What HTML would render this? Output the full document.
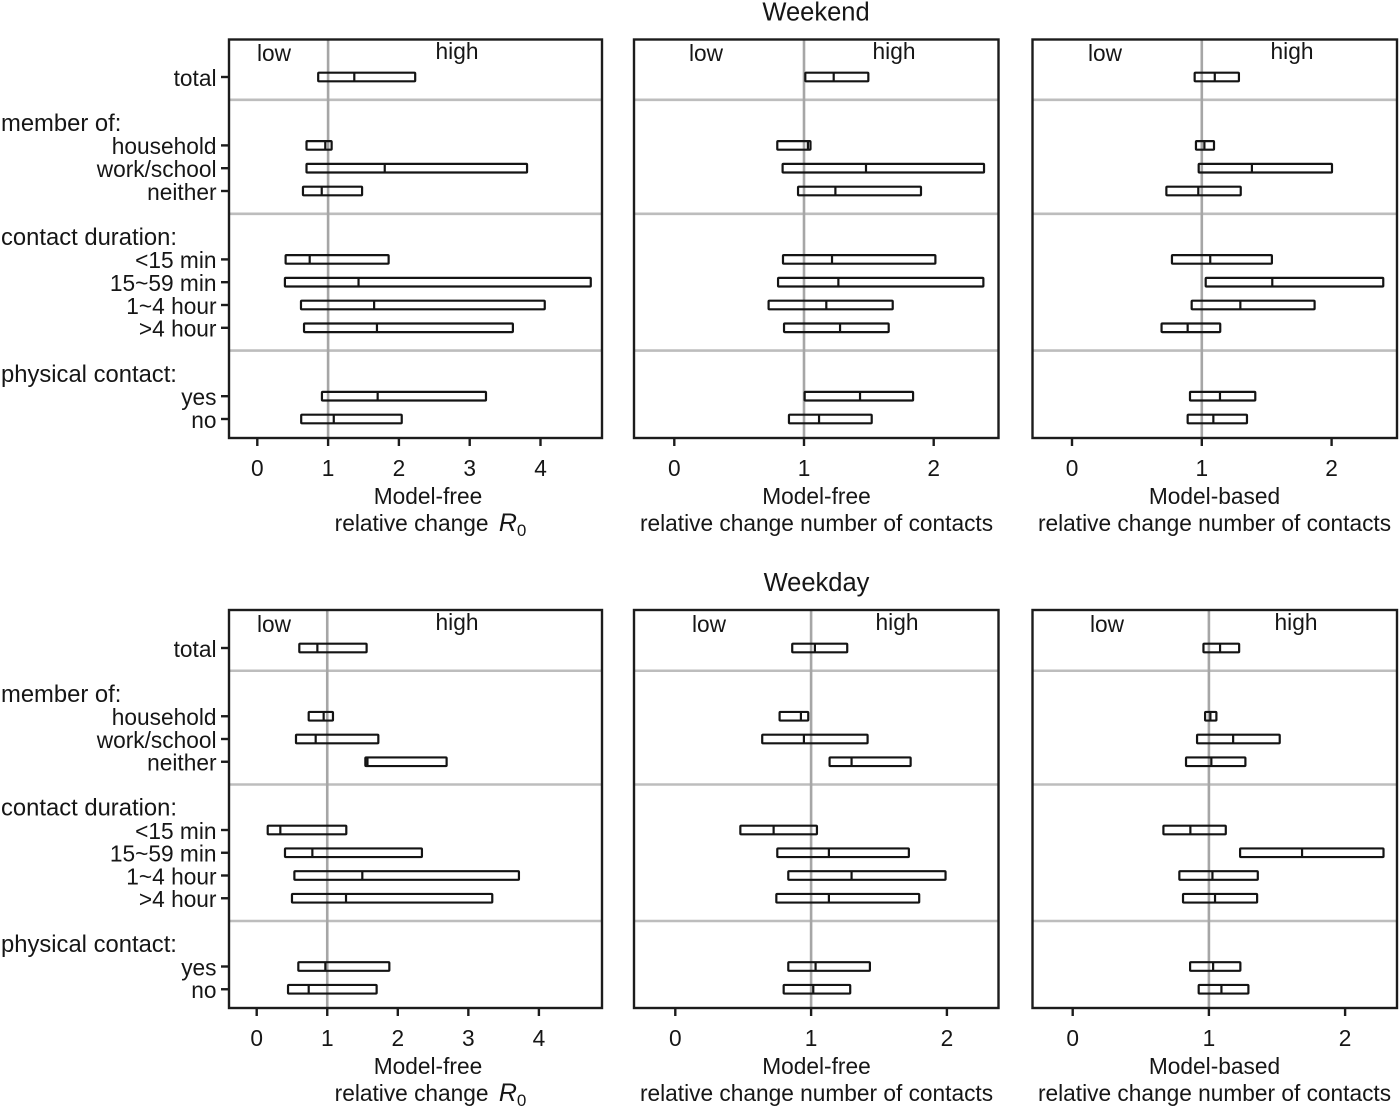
<!DOCTYPE html>
<html lang="en">
<head>
<meta charset="utf-8">
<title>Relative change by contact type, weekend and weekday</title>
<style>
html,body{margin:0;padding:0;background:#fff}
svg{display:block}
text{font-family:"Liberation Sans",Arial,sans-serif;font-size:22.7px;fill:#161616}
</style>
</head>
<body>
<svg id="chart" xmlns="http://www.w3.org/2000/svg" width="1400" height="1107" viewBox="0 0 1400 1107">
<rect x="0" y="0" width="1400" height="1107" fill="#ffffff"/>
<text x="816" y="20.5" text-anchor="middle" style="font-size:25.5px">Weekend</text>
<text x="816.5" y="591" text-anchor="middle" style="font-size:25.5px">Weekday</text>
</svg>
<script>
const rowLabels = ['total','','member of:','household','work/school','neither','','contact duration:','<15 min','15~59 min','1~4 hour','>4 hour','','physical contact:','yes','no'];

const ticksR0 = [0,1,2,3,4];
const ticksContacts = [0,1,2];

const weekendFreeR0Low  = [0.86,0.695,0.695,0.645,0.40,0.39,0.617,0.66,0.913,0.62];
const weekendFreeR0Mid  = [1.37,0.96,1.80,0.91,0.74,1.43,1.65,1.69,1.70,1.08];
const weekendFreeR0High = [2.23,1.05,3.81,1.48,1.855,4.71,4.06,3.61,3.23,2.04];

const weekendFreeContactsLow  = [1.01,0.794,0.835,0.954,0.838,0.80,0.727,0.846,1.005,0.884];
const weekendFreeContactsMid  = [1.229,1.03,1.478,1.242,1.216,1.265,1.172,1.278,1.432,1.116];
const weekendFreeContactsHigh = [1.496,1.05,2.388,1.902,2.013,2.383,1.684,1.653,1.841,1.522];

const weekendBasedContactsLow  = [0.945,0.955,0.976,0.727,0.77,1.03,0.922,0.69,0.909,0.891];
const weekendBasedContactsMid  = [1.10,1.02,1.386,0.973,1.065,1.543,1.297,0.891,1.14,1.089];
const weekendBasedContactsHigh = [1.286,1.094,2.003,1.30,1.54,2.398,1.869,1.142,1.412,1.348];

const weekdayFreeR0Low  = [0.604,0.737,0.557,1.54,0.156,0.401,0.534,0.50,0.59,0.444];
const weekdayFreeR0Mid  = [0.86,0.949,0.836,1.57,0.335,0.789,1.497,1.266,0.973,0.737];
const weekdayFreeR0High = [1.558,1.081,1.724,2.692,1.27,2.342,3.717,3.339,1.88,1.70];

const weekdayFreeContactsLow  = [0.861,0.768,0.64,1.136,0.479,0.751,0.832,0.744,0.832,0.798];
const weekdayFreeContactsMid  = [1.028,0.925,0.947,1.298,0.724,1.131,1.298,1.131,1.033,1.016];
const weekdayFreeContactsHigh = [1.266,0.979,1.416,1.733,1.043,1.72,1.99,1.796,1.433,1.288];

const weekdayBasedContactsLow  = [0.96,0.972,0.913,0.832,0.666,1.229,0.783,0.81,0.862,0.925];
const weekdayBasedContactsMid  = [1.082,1.011,1.178,1.018,0.864,1.684,1.026,1.045,1.031,1.092];
const weekdayBasedContactsHigh = [1.222,1.055,1.52,1.268,1.124,2.282,1.359,1.354,1.231,1.29];

const panels = [
  {id:'weekend-r0',left:229,right:602,top:39.5,bottom:438,row0:77,rowStep:22.8,zero:257.3,unit:70.8,ticks:ticksR0,lowX:274,highX:457,lowY:61,highY:59,line1:'Model-free',cx:428,r0:true,low:weekendFreeR0Low,mid:weekendFreeR0Mid,high:weekendFreeR0High,yAxis:true},
  {id:'weekend-model-free-contacts',left:634,right:998.5,top:39.5,bottom:438,row0:77,rowStep:22.8,zero:674.3,unit:129.7,ticks:ticksContacts,lowX:706,highX:894,lowY:61,highY:59,line1:'Model-free',cx:816.5,low:weekendFreeContactsLow,mid:weekendFreeContactsMid,high:weekendFreeContactsHigh},
  {id:'weekend-model-based-contacts',left:1032.5,right:1397,top:39.5,bottom:438,row0:77,rowStep:22.8,zero:1072,unit:129.8,ticks:ticksContacts,lowX:1105,highX:1292,lowY:61,highY:59,line1:'Model-based',cx:1214.5,low:weekendBasedContactsLow,mid:weekendBasedContactsMid,high:weekendBasedContactsHigh},
  {id:'weekday-r0',left:229,right:602,top:610,bottom:1008,row0:648,rowStep:22.75,zero:256.7,unit:70.55,ticks:ticksR0,lowX:274,highX:457,lowY:632,highY:630,line1:'Model-free',cx:428,r0:true,low:weekdayFreeR0Low,mid:weekdayFreeR0Mid,high:weekdayFreeR0High,yAxis:true},
  {id:'weekday-model-free-contacts',left:634,right:998.5,top:610,bottom:1008,row0:648,rowStep:22.75,zero:675.3,unit:135.8,ticks:ticksContacts,lowX:709,highX:897,lowY:632,highY:630,line1:'Model-free',cx:816.5,low:weekdayFreeContactsLow,mid:weekdayFreeContactsMid,high:weekdayFreeContactsHigh},
  {id:'weekday-model-based-contacts',left:1032.5,right:1397,top:610,bottom:1008,row0:648,rowStep:22.75,zero:1072.7,unit:136.2,ticks:ticksContacts,lowX:1107,highX:1296,lowY:632,highY:630,line1:'Model-based',cx:1214.5,low:weekdayBasedContactsLow,mid:weekdayBasedContactsMid,high:weekdayBasedContactsHigh}
];

const svg = document.getElementById('chart');
const NS = 'http://www.w3.org/2000/svg';

function make(tag, attrs, parent){
  const el = document.createElementNS(NS, tag);
  for (const k in attrs) el.setAttribute(k, attrs[k]);
  parent.appendChild(el);
  return el;
}

panels.forEach(function(p){
  const xScale = function(v){ return p.zero + v * p.unit; };
  const yScale = function(slot){ return p.row0 + slot * p.rowStep; };

  const g = make('g', {}, svg);
  
  

  // separators between groups sit on the empty slots
  rowLabels.forEach(function(label, slot){
    if (label === '') {
      const sep = make('line', {x1:p.left, x2:p.right, y1:yScale(slot), y2:yScale(slot), stroke:'#bdbdbd', 'stroke-width':2.6}, g);
      
      
    }
  });

  const ref = make('line', {x1:xScale(1), x2:xScale(1), y1:p.top, y2:p.bottom, stroke:'#a6a6a6', 'stroke-width':2.6}, g);
  
  

  const frame = make('rect', {x:p.left, y:p.top, width:p.right - p.left, height:p.bottom - p.top, fill:'none', stroke:'#1c1c1c', 'stroke-width':2.4}, g);
  
  

  const lowLabel = make('text', {x:p.lowX, y:p.lowY, 'text-anchor':'middle'}, g);
  lowLabel.textContent = 'low';
  
  

  const highLabel = make('text', {x:p.highX, y:p.highY, 'text-anchor':'middle'}, g);
  highLabel.textContent = 'high';
  
  

  p.ticks.forEach(function(t){
    const tick = make('line', {x1:xScale(t), x2:xScale(t), y1:p.bottom, y2:p.bottom + 8, stroke:'#1c1c1c', 'stroke-width':2.4}, g);
    
    
    const tl = make('text', {x:xScale(t), y:p.bottom + 38, 'text-anchor':'middle'}, g);
    tl.textContent = String(t);
    
    
  });

  const t1 = make('text', {x:p.cx, y:p.bottom + 66, 'text-anchor':'middle'}, g);
  t1.textContent = p.line1;
  
  

  const t2 = make('text', {x:p.r0 ? p.cx + 2.5 : p.cx, y:p.bottom + 93, 'text-anchor':'middle'}, g);
  
  
  if (p.r0) {
    const a = make('tspan', {}, t2);
    a.textContent = 'relative change ';
    const b = make('tspan', {dx:4, 'font-style':'italic', style:'font-size:25px'}, t2);
    b.textContent = 'R';
    const c = make('tspan', {dy:5, style:'font-size:17px'}, t2);
    c.textContent = '0';
  } else {
    t2.textContent = 'relative change number of contacts';
  }

  let i = 0;
  rowLabels.forEach(function(label, slot){
    if (label === '') return;
    const isHeader = label.charAt(label.length - 1) === ':';
    if (p.yAxis) {
      const lab = make('text', {x:isHeader ? 1 : 216.5, y:yScale(slot) + (isHeader ? 8.4 : 8.8), 'text-anchor':isHeader ? 'start' : 'end'}, g);
      lab.textContent = label;
      if (isHeader) lab.style.fontSize = '23.8px';
      
      
    }
    if (isHeader) return;
    if (p.yAxis) {
      const yt = make('line', {x1:p.left - 8, x2:p.left, y1:yScale(slot), y2:yScale(slot), stroke:'#1c1c1c', 'stroke-width':2.4}, g);
      
      
    }
    const x0 = xScale(p.low[i]), x1 = xScale(p.high[i]), xm = xScale(p.mid[i]);
    const bar = make('rect', {x:x0, y:yScale(slot) - 4.3, width:x1 - x0, height:8.6, rx:0.8, fill:'none', stroke:'#141414', 'stroke-width':2.2}, g);
    
    
    const med = make('line', {x1:xm, x2:xm, y1:yScale(slot) - 4.3, y2:yScale(slot) + 4.3, stroke:'#141414', 'stroke-width':2.2}, g);
    
    
    i++;
  });
});
</script>
</body>
</html>
